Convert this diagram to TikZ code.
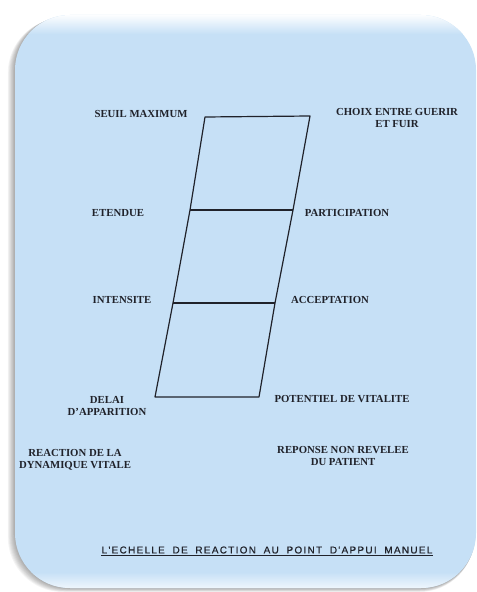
\documentclass[tikz,border=0pt]{standalone}
\usepackage{fontspec}
\setmainfont{Liberation Serif}
\newfontfamily\titlefont[LetterSpace=13,WordSpace=1.9,FakeBold=0.6]{Liberation Sans}
\definecolor{cardblue}{RGB}{198,224,246}
\definecolor{ink}{RGB}{32,34,42}
\begin{document}
\begin{tikzpicture}[x=1bp,y=-1bp,
  lbl/.style={font=\fontsize{10.8}{11.5}\selectfont\bfseries, text=ink, align=center, inner sep=0pt},
  ttlstyle/.style={font=\titlefont\fontsize{10}{11}\selectfont, text=ink, inner sep=0pt},
  edge/.style={draw=ink, line width=1.2bp, line join=round}]
\useasboundingbox (0,0) rectangle (477,592);
\fill[white] (0,0) rectangle (477,592);
% soft shadow
\foreach \i in {1,...,8} {
  \fill[black, opacity=0.045, rounded corners=55bp] (15-\i*0.9,15+\i*0.4) rectangle (476-\i*0.2,588+\i*0.5);
}
% card
\fill[cardblue, rounded corners=55bp] (15,15) rectangle (476,588);
\begin{scope}
  \clip[rounded corners=55bp] (15,15) rectangle (476,588);
  \shade[top color=white, bottom color=cardblue] (15,14) rectangle (476,34);
  \shade[top color=cardblue, bottom color=white!75!cardblue] (15,572) rectangle (476,589);
\end{scope}
% ladder
\coordinate (a1) at (205,117); \coordinate (b1) at (310,116);
\coordinate (a2) at (190,210); \coordinate (b2) at (293,210);
\coordinate (a3) at (173,303); \coordinate (b3) at (275,303);
\coordinate (a4) at (155,397); \coordinate (b4) at (259,397);
\draw[edge] (a1) -- (b1) -- (b2) -- (b3) -- (b4) -- (a4) -- (a3) -- (a2) -- cycle;
\draw[edge] (a2) -- (b2);
\draw[edge] (a3) -- (b3);
% labels
\node[lbl] (seuil) at (141,114) {SEUIL MAXIMUM};
\node[lbl] (choix) at (397,118) {CHOIX ENTRE GUERIR\\ET FUIR};
\node[lbl] (etendue) at (118,213) {ETENDUE};
\node[lbl] (partic) at (347,213) {PARTICIPATION};
\node[lbl] (intens) at (122,300) {INTENSITE};
\node[lbl] (accept) at (330,300) {ACCEPTATION};
\node[lbl] (delai) at (107,406) {DELAI\\D'APPARITION};
\node[lbl] (potent) at (342,399) {POTENTIEL DE VITALITE};
\node[lbl] (reaction) at (75,460) {REACTION DE LA\\DYNAMIQUE VITALE};
\node[lbl] (reponse) at (343,456) {REPONSE NON REVELEE\\DU PATIENT};
\node[ttlstyle] (ttl) at (267,550) {L'ECHELLE DE REACTION AU POINT D'APPUI MANUEL};
\draw[ink, line width=0.9bp] ([yshift=-2.5bp]ttl.base west) -- ([yshift=-2.5bp]ttl.base east);
\end{tikzpicture}
\end{document}
